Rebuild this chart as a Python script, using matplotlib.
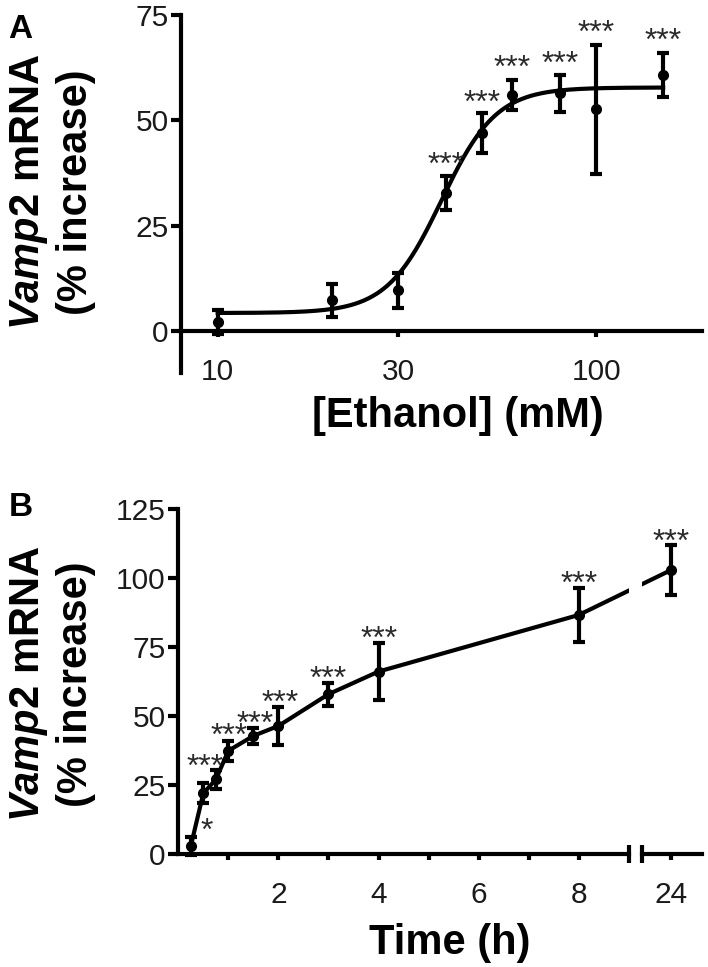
import numpy as np
import matplotlib
matplotlib.use("Agg")
import matplotlib.pyplot as plt
from matplotlib.ticker import NullLocator, FixedLocator

plt.rcParams['font.family'] = ['Liberation Sans', 'DejaVu Sans']
plt.rcParams['mathtext.fontset'] = 'custom'
plt.rcParams['mathtext.it'] = 'Liberation Sans:italic:bold'
plt.rcParams['mathtext.rm'] = 'Liberation Sans:bold'

# panel A - ethanol dose response
ethanol_mm = [10, 20, 30, 40, 50, 60, 80, 100, 150]
dose_mean = [2.1, 7.3, 9.7, 32.8, 47.0, 56.0, 56.4, 52.6, 60.7]
dose_err = [2.8, 4.0, 4.1, 4.0, 4.8, 3.6, 4.3, 15.3, 5.2]
dose_star_x = [40, 50, 60, 80, 100, 150]
dose_star_y = [41.7, 56.4, 64.5, 65.5, 72.9, 71.0]
# sigmoid fit parameters (bottom, top, EC50, hill slope)
fit_bottom, fit_top, fit_ec50, fit_hill = 4.3, 57.8, 39.0, 6.0

# panel B - time course (24 h sits after the axis break)
time_h = [0.25, 0.5, 0.75, 1, 1.5, 2, 3, 4, 8, 24]
time_mean = [2.9, 22.0, 27.0, 37.4, 42.8, 46.4, 57.9, 66.1, 86.6, 102.9]
time_err = [3.4, 3.7, 3.6, 3.6, 2.9, 7.0, 4.2, 10.2, 9.7, 9.0]
time_star_x = [0.57, 0.53, 1.01, 1.53, 2.03, 3.0, 4.02, 8.0, 24]
time_star_y = [11.7, 34.7, 46.1, 50.4, 58.0, 66.9, 81.2, 101.0, 116.2]
time_star_txt = ["*", "***", "***", "***", "***", "***", "***", "***", "***"]

ylabel = "$\\mathit{Vamp2}$ mRNA\n(% increase)"
tick_col = '#1a1a1a'
star_col = '#2a2a2a'
LW = 3.0

fig = plt.figure(figsize=(7.08, 9.67), dpi=100)
W, H = 708.0, 967.0


def style_axis(ax):
    for s in ['top', 'right']:
        ax.spines[s].set_visible(False)
    for s in ['left', 'bottom']:
        ax.spines[s].set_linewidth(LW)
    ax.tick_params(axis='y', direction='out', length=7, width=LW, pad=2,
                   labelsize=21.5, labelcolor=tick_col)
    ax.tick_params(axis='x', which='both', direction='out', length=4.5, width=LW,
                   pad=15, labelsize=21.5, labelcolor=tick_col)


def stars(ax, x, y, txt):
    # shift so the glyphs (which sit high in the line) are centred on y
    ax.annotate(txt, xy=(x, y), xytext=(0, -13), textcoords='offset points',
                ha='center', va='baseline', fontsize=23, color=star_col,
                annotation_clip=False)


# ---- panel A ----
axA = fig.add_axes([181 / W, 1 - 373.3 / H, (702 - 181) / W, (373.3 - 15) / H])
style_axis(axA)
axA.set_xscale('log')
axA.set_xlim(8, 190)
axA.set_ylim(-10, 75)
axA.spines['bottom'].set_position(('data', 0))
axA.xaxis.set_major_locator(FixedLocator([10, 30, 100]))
axA.xaxis.set_minor_locator(NullLocator())
axA.set_xticklabels(['10', '30', '100'])
axA.set_yticks([0, 25, 50, 75])

xs = np.logspace(np.log10(ethanol_mm[0]), np.log10(ethanol_mm[-1]), 300)
ys = fit_bottom + (fit_top - fit_bottom) / (1 + 10 ** ((np.log10(fit_ec50) - np.log10(xs)) * fit_hill))
axA.plot(xs, ys, color='k', lw=LW)
axA.errorbar(ethanol_mm, dose_mean, yerr=dose_err, fmt='o', color='k', ms=7,
             elinewidth=LW, capsize=4, capthick=LW, clip_on=False)
for x, y in zip(dose_star_x, dose_star_y):
    stars(axA, x, y, "***")

fig.text(8 / W, 1 - 38.5 / H, 'A', fontsize=24, fontweight='bold', va='baseline')
fig.text(458 / W, 1 - 426.7 / H, '[Ethanol] (mM)', ha='center', va='baseline',
         fontsize=30, fontweight='bold')
fig.text(52 / W, 1 - 192 / H, ylabel, rotation=90, ha='center', va='center',
         multialignment='center', fontsize=30, fontweight='bold')

# ---- panel B (broken x axis) ----
bot = 1 - 854 / H
hgt = (854 - 509) / H
axB1 = fig.add_axes([178.3 / W, bot, (628.8 - 178.3) / W, hgt])
axB2 = fig.add_axes([641.7 / W, bot, 60 / W, hgt], sharey=axB1)
style_axis(axB1)
style_axis(axB2)
axB1.set_xlim(0, 9)
axB2.set_xlim(23.41, 24.61)
axB1.set_ylim(0, 125)
axB1.set_yticks([0, 25, 50, 75, 100, 125])
axB1.set_xticks([2, 4, 6, 8])
axB1.set_xticks([1, 3, 5, 7], minor=True)
axB2.set_xticks([24])
axB2.xaxis.set_minor_locator(NullLocator())
axB2.spines['left'].set_visible(False)
axB2.tick_params(axis='y', left=False, labelleft=False)

# break caps at the ends of the axis segments
axB1.plot([1], [0], marker='|', ms=13, mew=LW, color='k', transform=axB1.transAxes, clip_on=False)
axB2.plot([0], [0], marker='|', ms=13, mew=LW, color='k', transform=axB2.transAxes, clip_on=False)

t_a = [t for t in time_h if t <= 9]
m_a = time_mean[:len(t_a)]
e_a = time_err[:len(t_a)]
t_b = time_h[len(t_a):]
m_b = time_mean[len(t_a):]
e_b = time_err[len(t_a):]

# line crosses the break straight in display space
p_last = axB1.transData.inverted().transform(axB2.transData.transform((t_b[0], m_b[0])))
p_first = axB2.transData.inverted().transform(axB1.transData.transform((t_a[-1], m_a[-1])))
axB1.plot(t_a + [p_last[0]], m_a + [p_last[1]], color='k', lw=LW)
axB2.plot([p_first[0]] + t_b, [p_first[1]] + m_b, color='k', lw=LW)

axB1.errorbar(t_a, m_a, yerr=e_a, fmt='o', color='k', ms=7,
              elinewidth=LW, capsize=4, capthick=LW, clip_on=False)
axB2.errorbar(t_b, m_b, yerr=e_b, fmt='o', color='k', ms=7,
              elinewidth=LW, capsize=4, capthick=LW, clip_on=False)

for x, y, s in zip(time_star_x, time_star_y, time_star_txt):
    stars(axB2 if x > 9 else axB1, x, y, s)

fig.text(9 / W, 1 - 515.5 / H, 'B', fontsize=24, fontweight='bold', va='baseline')
fig.text(450 / W, 1 - 954 / H, 'Time (h)', ha='center', va='baseline',
         fontsize=30, fontweight='bold')
fig.text(52 / W, 1 - 684 / H, ylabel, rotation=90, ha='center', va='center',
         multialignment='center', fontsize=30, fontweight='bold')

fig.savefig('out.png', dpi=100)
